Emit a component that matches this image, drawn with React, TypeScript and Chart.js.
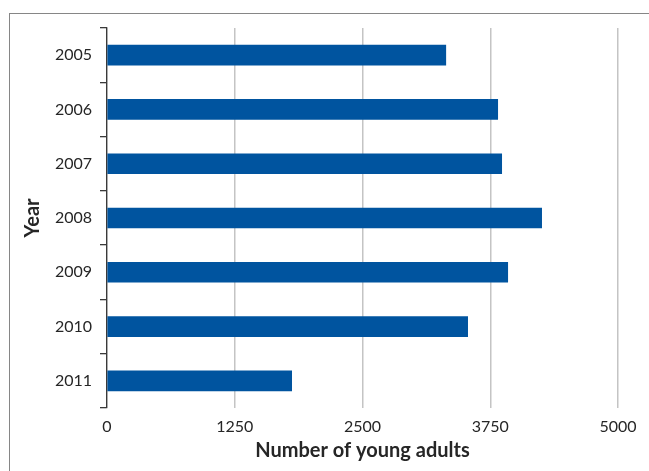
import React, { useEffect, useRef } from "react";
import { Chart, registerables } from "chart.js";

Chart.register(...registerables);

// Young adults counted per year
const years: string[] = ["2005", "2006", "2007", "2008", "2009", "2010", "2011"];
const youngAdults: number[] = [3315, 3823, 3862, 4253, 3921, 3529, 1807];

// Value-axis ticks
const axisMin = 0;
const axisMax = 5000;
const axisStep = 1250;

const BAR_BLUE = "#00549f";
const TEXT = "#262626";
const FONT = "Lato, 'Open Sans', sans-serif";

export default function App() {
  const canvasRef = useRef<HTMLCanvasElement | null>(null);

  useEffect(() => {
    const canvas = canvasRef.current;
    if (!canvas) return;
    const chart = new Chart(canvas, {
      type: "bar",
      data: {
        labels: years,
        datasets: [
          {
            label: "Number of young adults",
            data: youngAdults,
            backgroundColor: BAR_BLUE,
            borderWidth: 0,
            barThickness: 20,
          },
        ],
      },
      options: {
        indexAxis: "y",
        responsive: false,
        animation: false,
        layout: { padding: { left: 21, top: 28, right: 31, bottom: 0 } },
        plugins: {
          legend: { display: false },
          tooltip: { enabled: false },
        },
        scales: {
          y: {
            afterFit: (s: any) => {
              s.width = 86;
            },
            grid: {
              drawOnChartArea: false,
              drawTicks: true,
              tickLength: 7,
              color: "#3a3a3a",
              lineWidth: 1.3,
            },
            border: { display: true, color: "#3a3a3a", width: 1.3 },
            ticks: {
              color: TEXT,
              padding: 8,
              font: { family: FONT, size: 16 },
            },
            title: {
              display: true,
              text: "Year",
              color: TEXT,
              padding: 0,
              font: { family: FONT, size: 20, weight: "bold" },
            },
          },
          x: {
            min: axisMin,
            max: axisMax,
            afterFit: (s: any) => {
              s.height = 63;
            },
            grid: {
              drawTicks: false,
              color: "#c4c4c4",
              lineWidth: 1.5,
            },
            border: { display: false },
            ticks: {
              stepSize: axisStep,
              color: TEXT,
              padding: 9,
              maxRotation: 0,
              font: { family: FONT, size: 16 },
              callback: (v: any) => String(v),
            },
            title: {
              display: true,
              text: "Number of young adults",
              color: TEXT,
              padding: { top: 0, bottom: 8 },
              font: { family: FONT, size: 20, weight: "bold" },
            },
          },
        },
      },
    });
    return () => chart.destroy();
  }, []);

  return (
    <div
      style={{
        position: "absolute",
        left: 0,
        top: 0,
        width: 649,
        height: 471,
        overflow: "hidden",
        background: "#ffffff",
      }}
    >
      <div
        style={{
          position: "absolute",
          left: 9,
          top: 13,
          width: 700,
          height: 500,
          borderTop: "1.5px solid #868686",
          borderLeft: "1.5px solid #868686",
        }}
      />
      <canvas
        ref={canvasRef}
        width={649}
        height={471}
        style={{ position: "absolute", left: 0, top: 0, width: 649, height: 471 }}
      />
    </div>
  );
}
